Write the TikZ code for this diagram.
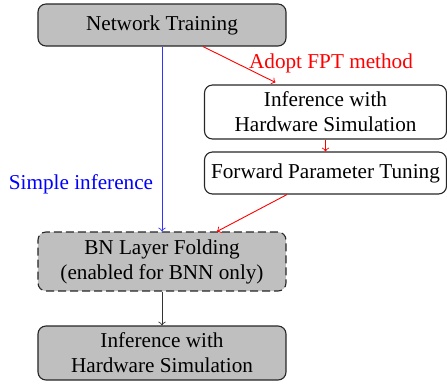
\documentclass[tikz,border=0pt]{standalone}
\usepackage{fontspec}
\setmainfont{Liberation Serif}
\usetikzlibrary{positioning}
\begin{document}
\begin{tikzpicture}[x=0.5pt,y=-0.5pt,
  font=\fontsize{10.6}{12.5}\selectfont,
  box/.style={draw=black!85, line width=0.55pt, rounded corners=4pt,
    align=center, inner sep=0pt, minimum width=124pt},
  graybox/.style={box, fill=black!25},
  link/.style={->, line width=0.45pt}]
\useasboundingbox (0,0) rectangle (447,388);

% main flow
\node[graybox, minimum height=21pt] (train) at (162,25) {Network Training};
\node[graybox, dash pattern=on 4pt off 2pt, minimum height=29.5pt] (fold) at (162,261.5)
  {BN Layer Folding\\(enabled for BNN only)};
\node[graybox, minimum height=27pt] (sim) at (162,353)
  {Inference with\\Hardware Simulation};

% FPT branch
\node[box, minimum width=121pt, minimum height=27pt] (hwsim) at (325.5,112)
  {Inference with\\Hardware Simulation};
\node[box, minimum width=121pt, minimum height=21pt] (fpt) at (325.5,173)
  {Forward Parameter Tuning};

% connectors
\draw[link, blue!80] (train.south) -- (fold.north);
\draw[link, red] ([xshift=20.5pt]train.south) -- ([xshift=-25pt,yshift=1pt]hwsim.north);
\draw[link, red] (hwsim.south) -- (fpt.north);
\draw[link, red] ([xshift=-19.25pt]fpt.south) -- ([xshift=27.5pt]fold.north);
\draw[link, black!80] (fold.south) -- (sim.north);

% labels
\node[text=red] (fptlabel) at (331,63) {Adopt FPT method};
\node[text=blue] (simplelabel) at (81,184) {Simple inference};
\end{tikzpicture}
\end{document}
